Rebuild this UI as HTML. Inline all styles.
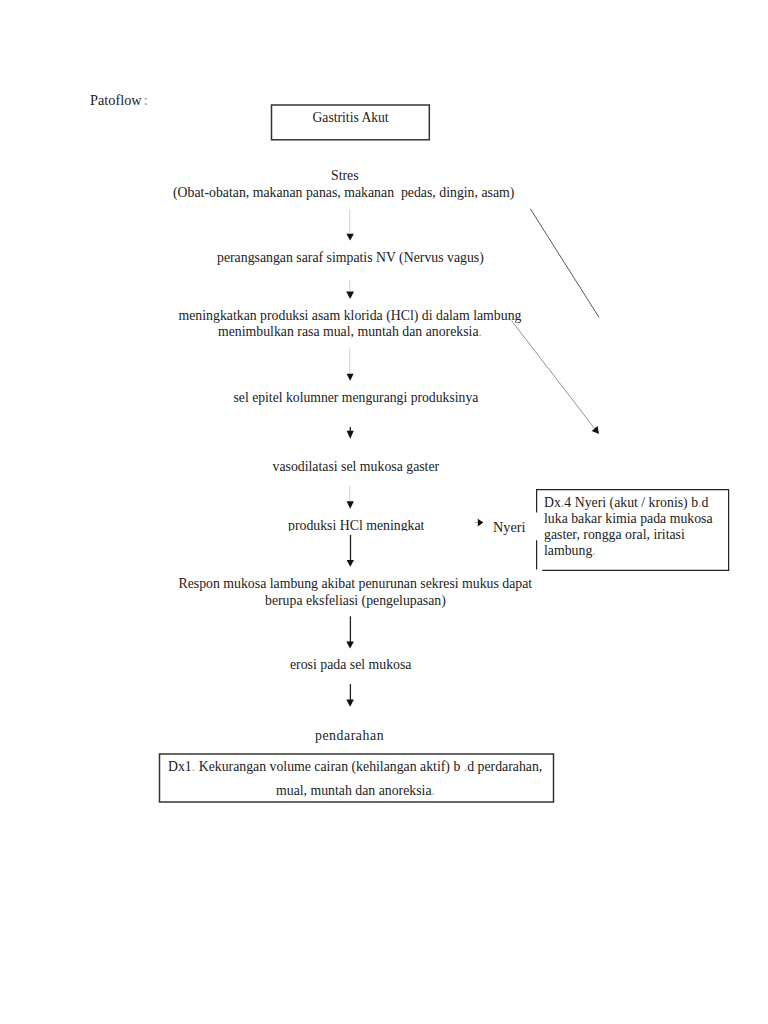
<!DOCTYPE html>
<html><head><meta charset="utf-8">
<style>
html,body{margin:0;padding:0;background:#fff;}
body{width:768px;height:1024px;position:relative;overflow:hidden;}
.t{position:absolute;font-family:"Liberation Serif",serif;font-size:13.8px;line-height:14px;white-space:nowrap;color:#222;}
svg{position:absolute;left:0;top:0;}
.f{color:#aaa;}
</style></head><body>
<div class="t" style="left:90px;top:93.4px;font-size:14.3px">Patoflow<span style="margin-left:-1.5px"> </span><span style="color:#888">:</span></div>
<div class="t" style="left:312.5px;top:111px;font-size:13.65px">Gastritis Akut</div>
<div class="t" style="left:331px;top:169px">Stres</div>
<div class="t" style="left:173px;top:186px">(Obat-obatan, makanan panas, makanan&nbsp; pedas, dingin, asam)</div>
<div class="t" style="left:217px;top:251px">perangsangan saraf simpatis NV (Nervus vagus)</div>
<div class="t" style="left:178.5px;top:309px">meningkatkan produksi asam klorida (HCl) di dalam lambung</div>
<div class="t" style="left:218px;top:325px">menimbulkan rasa mual, muntah dan anoreksia<span class="f">.</span></div>
<div class="t" style="left:233.5px;top:391px;font-size:13.7px">sel epitel kolumner mengurangi produksinya</div>
<div class="t" style="left:272.5px;top:460px">vasodilatasi sel mukosa gaster</div>
<div class="t" style="left:288px;top:519px;height:12.4px;overflow:hidden">produksi HCl meningkat</div>
<div class="t" style="left:493px;top:519.6px;font-size:14.3px">Nyeri</div>
<div class="t" style="left:544px;top:495px;line-height:16.1px;white-space:normal;width:185px">Dx<span class="f">.</span>4 Nyeri (akut / kronis) b<span class="f">.</span>d luka bakar kimia pada mukosa gaster, rongga oral, iritasi lambung<span class="f">.</span></div>
<div class="t" style="left:178.5px;top:577px">Respon mukosa lambung akibat penurunan sekresi mukus dapat</div>
<div class="t" style="left:265px;top:594px">berupa eksfeliasi (pengelupasan)</div>
<div class="t" style="left:290px;top:658px">erosi pada sel mukosa</div>
<div class="t" style="left:315px;top:729px;letter-spacing:0.55px">pendarahan</div>
<div class="t" style="left:168px;top:760px">Dx1<span class="f">.</span> Kekurangan volume cairan (kehilangan aktif) b <span class="f">.</span>d perdarahan,</div>
<div class="t" style="left:276px;top:784px">mual, muntah dan anoreksia<span class="f">.</span></div>
<svg width="768" height="1024" viewBox="0 0 768 1024">
<g fill="none" stroke="#333" stroke-width="1.5">
<rect x="271.5" y="105" width="157.8" height="34.8"/>
<rect x="159.5" y="754" width="394" height="48"/>
</g>
<g fill="none" stroke="#222" stroke-width="1.2">
<line x1="536.6" y1="489.6" x2="728.6" y2="489.6"/>
<line x1="728.6" y1="489" x2="728.6" y2="571"/>
<line x1="542.2" y1="570.4" x2="729.2" y2="570.4"/>
<line x1="536.6" y1="489" x2="536.6" y2="512.6"/>
<line x1="536.6" y1="540.2" x2="536.6" y2="569.4"/>
</g>
<g stroke="#cfcfcf" stroke-width="1">
<line x1="349.8" y1="209" x2="349.8" y2="234"/>
<line x1="349.8" y1="280" x2="349.8" y2="292"/>
<line x1="349.8" y1="348.4" x2="349.8" y2="374"/>
<line x1="349.8" y1="485.7" x2="349.8" y2="502"/>
</g>
<g stroke="#222" stroke-width="1.3">
<line x1="350.3" y1="427" x2="350.3" y2="431"/>
<line x1="350.5" y1="535" x2="350.5" y2="560.5"/>
<line x1="350.4" y1="616.3" x2="350.4" y2="642"/>
<line x1="350.4" y1="684" x2="350.4" y2="700"/>
<line x1="530.4" y1="208.9" x2="599" y2="317.4" stroke-width="0.75"/>
</g>
<line x1="511.5" y1="320.6" x2="595" y2="429" stroke="#777" stroke-width="0.8"/>
<line x1="475" y1="522.5" x2="479" y2="522.5" stroke="#999" stroke-width="0.8"/>
<g fill="#111">
<polygon points="346.4,233.7 353.9,233.7 350.1,240.6"/>
<polygon points="346.2,291.6 354,291.6 350.1,298.9"/>
<polygon points="346.6,373.7 353.6,373.7 350.1,380.8"/>
<polygon points="346.6,430.7 353.8,430.7 350.2,438.8"/>
<polygon points="346.6,501.3 353.9,501.3 350.2,508.7"/>
<polygon points="346.6,559.9 354,559.9 350.3,566.8"/>
<polygon points="346.3,641.6 353.9,641.6 350.1,648.6"/>
<polygon points="346.3,699.6 353.9,699.6 350.1,706.7"/>
<polygon points="591.7,431 597.6,426 599,434"/>
<polygon points="477.8,518.7 483.3,522.5 477.8,526.4"/>
</g>
</svg>
</body></html>
